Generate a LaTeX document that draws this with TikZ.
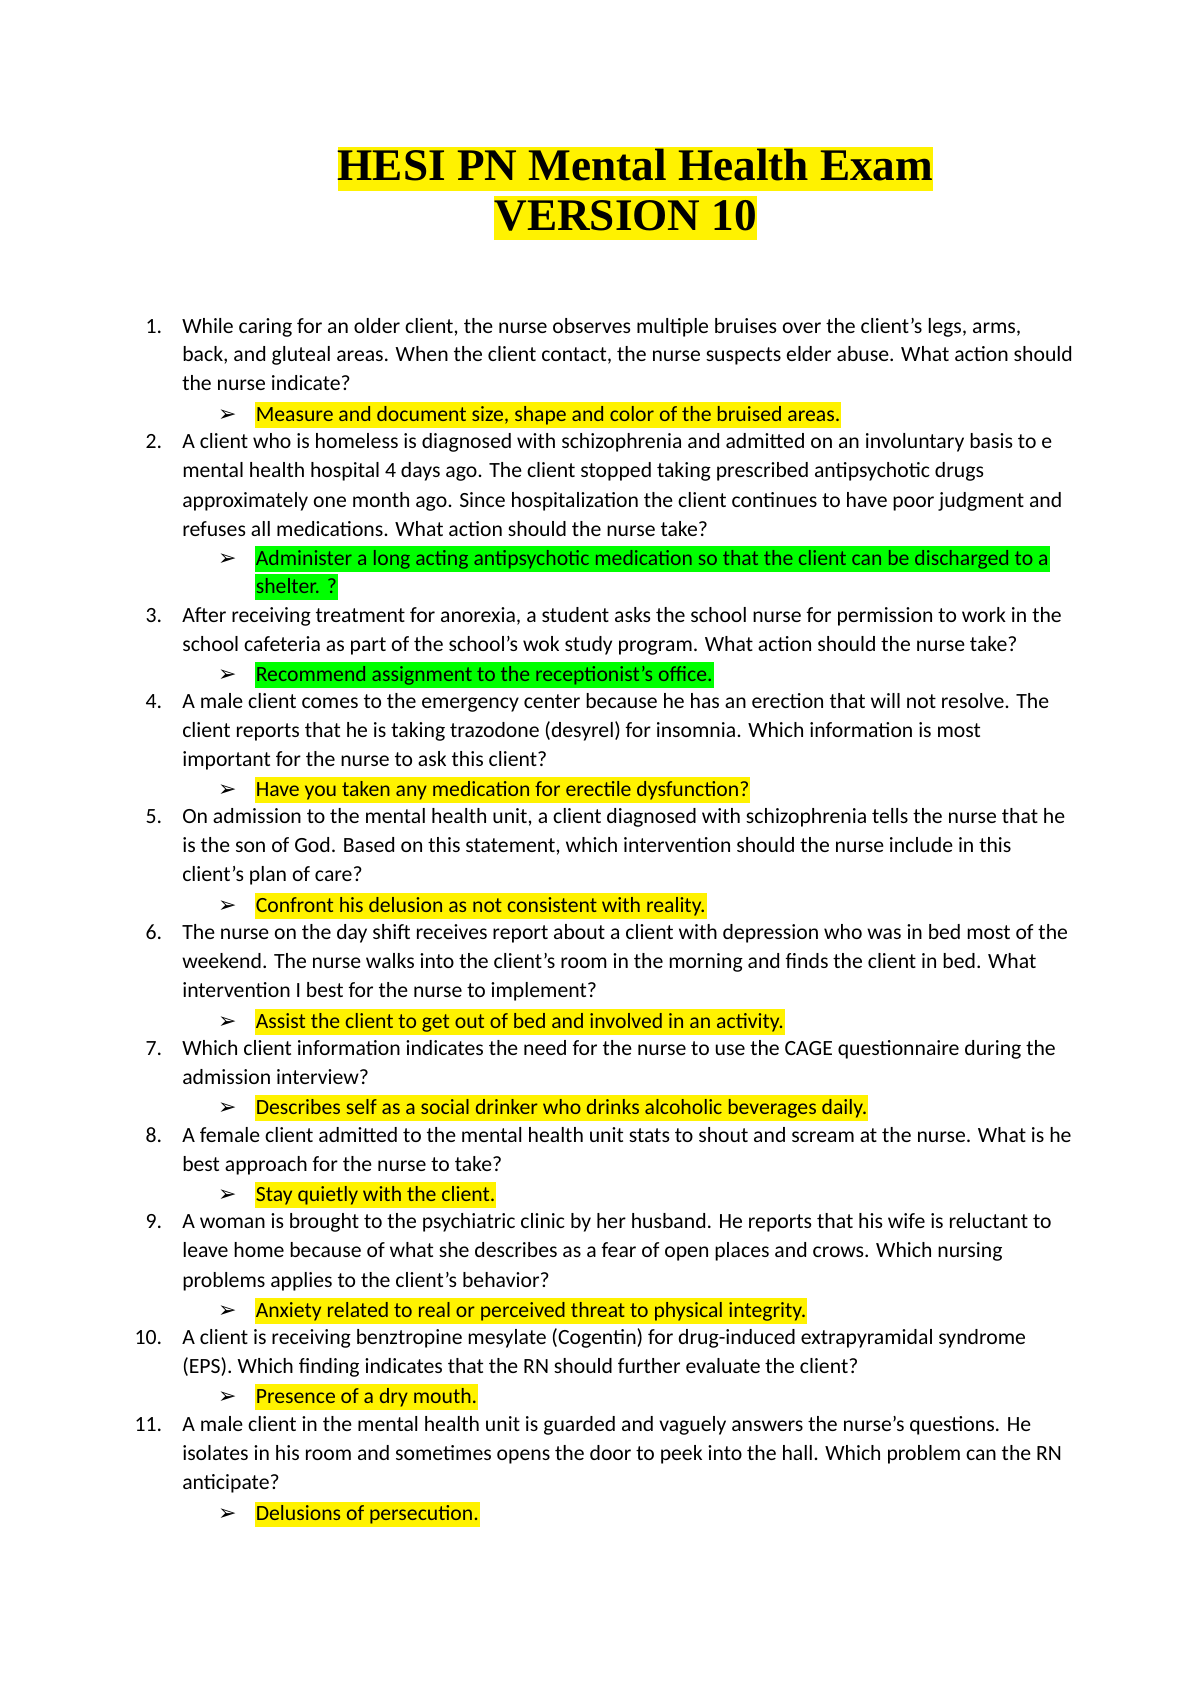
\documentclass[tikz,border=0pt]{standalone}
\usepackage{fontspec}
\setmainfont{Carlito}
\newfontfamily\titlefont{Liberation Serif}
\newfontfamily\symfont{DejaVu Sans}
\begin{document}
\begin{tikzpicture}[x=0.541pt,y=-0.537pt,
  txt/.style={anchor=base west,inner sep=0pt,font=\fontsize{10.85pt}{13pt}\selectfont},
  num/.style={anchor=base east,inner sep=0pt,font=\fontsize{10.85pt}{13pt}\selectfont},
  arr/.style={anchor=base west,inner sep=0pt,font=\symfont\fontsize{11pt}{13pt}\selectfont},
  hy/.style={txt,fill=yellow,text height=9.5pt,text depth=3.2pt,inner xsep=0.5pt},
  hg/.style={txt,fill=green,text height=9.5pt,text depth=3.2pt,inner xsep=0.5pt},
  ttl/.style={inner sep=0pt,fill=yellow,font=\titlefont\bfseries\fontsize{22.6pt}{26pt}\selectfont,text height=17pt,text depth=5pt}]
\useasboundingbox (0,0) rectangle (1100,1568);
\node[ttl] (t1) at (587,157) {HESI PN Mental Health Exam\ };
\node[ttl] (t2) at (578,203) {VERSION 10};
\def\Q#1#2{\node[num] at (150,#1+6) {#2};}
\def\L#1#2{\node[txt] at (168,#1+6) {#2};}
\def\A#1#2{\node[arr] at (201,#1+6) {➢};\node[hy] at (235,#1+6) {#2};}
\def\G#1#2{\node[arr] at (201,#1+6) {➢};\node[hg] at (235,#1+6) {#2};}
\Q{304}{1.}
\L{304}{While caring for an older client, the nurse observes multiple bruises over the client’s legs, arms,}
\L{330}{back, and gluteal areas. When the client contact, the nurse suspects elder abuse. What action should}
\L{357}{the nurse indicate?}
\A{386}{Measure and document size, shape and color of the bruised areas.}
\Q{411}{2.}
\L{411}{A client who is homeless is diagnosed with schizophrenia and admitted on an involuntary basis to e}
\L{438}{mental health hospital 4 days ago. The client stopped taking prescribed antipsychotic drugs}
\L{466}{approximately one month ago. Since hospitalization the client continues to have poor judgment and}
\L{493}{refuses all medications. What action should the nurse take?}
\G{520}{Administer a long acting antipsychotic medication so that the client can be discharged to a}
\node[hg] at (235,552) {shelter. ?};
\Q{573}{3.}
\L{573}{After receiving treatment for anorexia, a student asks the school nurse for permission to work in the}
\L{600}{school cafeteria as part of the school’s wok study program. What action should the nurse take?}
\G{628}{Recommend assignment to the receptionist’s office.}
\Q{653}{4.}
\L{653}{A male client comes to the emergency center because he has an erection that will not resolve. The}
\L{680}{client reports that he is taking trazodone (desyrel) for insomnia. Which information is most}
\L{707}{important for the nurse to ask this client?}
\A{735}{Have you taken any medication for erectile dysfunction?}
\Q{760}{5.}
\L{760}{On admission to the mental health unit, a client diagnosed with schizophrenia tells the nurse that he}
\L{787}{is the son of God. Based on this statement, which intervention should the nurse include in this}
\L{814}{client’s plan of care?}
\A{843}{Confront his delusion as not consistent with reality.}
\Q{868}{6.}
\L{868}{The nurse on the day shift receives report about a client with depression who was in bed most of the}
\L{895}{weekend. The nurse walks into the client’s room in the morning and finds the client in bed. What}
\L{922}{intervention I best for the nurse to implement?}
\A{951}{Assist the client to get out of bed and involved in an activity.}
\Q{976}{7.}
\L{976}{Which client information indicates the need for the nurse to use the CAGE questionnaire during the}
\L{1003}{admission interview?}
\A{1031}{Describes self as a social drinker who drinks alcoholic beverages daily.}
\Q{1057}{8.}
\L{1057}{A female client admitted to the mental health unit stats to shout and scream at the nurse. What is he}
\L{1084}{best approach for the nurse to take?}
\A{1112}{Stay quietly with the client.}
\Q{1137}{9.}
\L{1137}{A woman is brought to the psychiatric clinic by her husband. He reports that his wife is reluctant to}
\L{1164}{leave home because of what she describes as a fear of open places and crows. Which nursing}
\L{1192}{problems applies to the client’s behavior?}
\A{1220}{Anxiety related to real or perceived threat to physical integrity.}
\Q{1245}{10.}
\L{1245}{A client is receiving benztropine mesylate (Cogentin) for drug-induced extrapyramidal syndrome}
\L{1272}{(EPS). Which finding indicates that the RN should further evaluate the client?}
\A{1300}{Presence of a dry mouth.}
\Q{1326}{11.}
\L{1326}{A male client in the mental health unit is guarded and vaguely answers the nurse’s questions. He}
\L{1353}{isolates in his room and sometimes opens the door to peek into the hall. Which problem can the RN}
\L{1380}{anticipate?}
\A{1409}{Delusions of persecution.}
\end{tikzpicture}
\end{document}
